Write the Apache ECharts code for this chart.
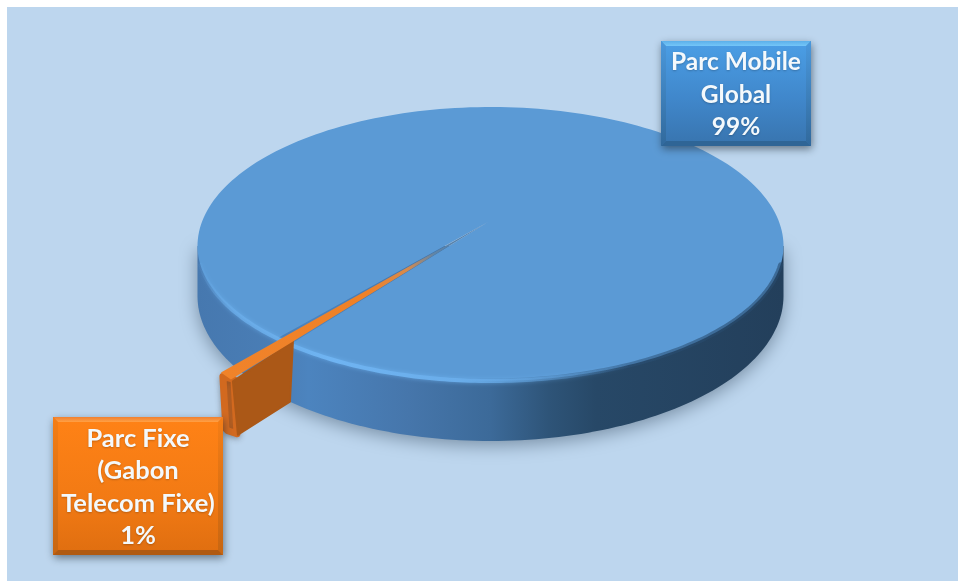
<!DOCTYPE html>
<html><head><meta charset="utf-8">
<style>html,body{margin:0;padding:0;background:#fff}#c{width:960px;height:581px}</style>
<script src="https://cdn.jsdelivr.net/npm/echarts@6/dist/echarts.min.js"></script>
</head><body><div id="c"></div>
<script>
const categories = ["Parc Mobile\nGlobal", "Parc Fixe\n(Gabon\nTelecom Fixe)"];
const values = [99, 1];
const total = values.reduce((a, b) => a + b, 0);

const CX = 490.5, RX = 293, CY = 246, RY_UP = 139, RY_DN = 135;
const BOT_CY = 296, BOT_RY = 145;
const APEX = [488, 222];
const FIXE_MID = 135 * Math.PI / 180;
const EXPLODE = [-58, 35];
const SKEW = 6;
const spanOf = v => v / total * 2 * Math.PI;
const fixeStart = FIXE_MID - spanOf(values[1]) / 2;
const fixeEnd = FIXE_MID + spanOf(values[1]) / 2;
const deg = d => d * Math.PI / 180;

const rimTop = t => [CX + RX * Math.cos(t), CY + (Math.sin(t) > 0 ? RY_DN : RY_UP) * Math.sin(t)];
const rimBot = t => [CX + RX * Math.cos(t), BOT_CY + BOT_RY * Math.sin(t)];
function arc(fn, a, b, n) { const p = []; for (let i = 0; i <= n; i++) p.push(fn(a + (b - a) * i / n)); return p; }
const grad = (x, y, x2, y2, stops) => ({ type: 'linear', x, y, x2, y2, global: true,
  colorStops: stops.map(s => ({ offset: s[0], color: s[1] })) });
const add = (p, d, sx) => [p[0] + d[0] + (sx || 0), p[1] + d[1]];

function box(x, y, w, h, b, c) {
  const X = x + w, Y = y + h;
  return [
    { type: 'rect', shape: { x, y, width: w, height: h }, style: { fill: c.base, shadowBlur: 8, shadowColor: 'rgba(30,40,50,.55)', shadowOffsetY: 3, shadowOffsetX: 1 } },
    { type: 'polygon', shape: { points: [[x, y], [x + b, y + b], [x + b, Y - b], [x, Y]] }, style: { fill: grad(0, y, 0, Y, c.side) } },
    { type: 'polygon', shape: { points: [[X, y], [X - b, y + b], [X - b, Y - b], [X, Y]] }, style: { fill: grad(0, y, 0, Y, c.side) } },
    { type: 'rect', shape: { x: x + b, y: y + b, width: w - 2 * b, height: h - 2 * b }, style: { fill: grad(0, y, 0, Y, c.face) } },
    { type: 'polygon', shape: { points: [[x, y], [X, y], [X - b, y + b], [x + b, y + b]] }, style: { fill: grad(0, y, 0, y + b, c.top) } },
    { type: 'polygon', shape: { points: [[x, Y], [X, Y], [X - b, Y - b], [x + b, Y - b]] }, style: { fill: c.bottom } }
  ];
}
function label(x, y, w, h, lines, value, size) {
  return { type: 'text', style: {
    x: x + w / 2, y: y + h / 2 + 1.5, text: lines + "\n" + value + "%", align: 'center', verticalAlign: 'middle',
    font: 'bold ' + size + 'px Lato, "Open Sans", sans-serif', lineHeight: 32.5, fill: '#F4F9FC',
    textShadowBlur: 2, textShadowColor: 'rgba(0,0,0,.22)', textShadowOffsetY: 1 } };
}

function renderItem(params, api) {
  const v = api.value(0);
  if (params.dataIndex === 0) {
    const wall = [rimTop(Math.PI), ...arc(rimBot, Math.PI, 0, 120), rimTop(0)];
    const face = [APEX, ...arc(rimTop, fixeEnd, fixeEnd + spanOf(v), 240)];
    return { type: 'group', children: [
      { type: 'polygon', shape: { points: wall }, style: {
        fill: grad(197, 0, 784, 0, [[0, '#4678AF'], [.14, '#4A7EB6'], [.19, '#4C84BF'], [.36, '#4676AB'], [.5, '#3C6A99'], [.6, '#2E5478'], [.68, '#274867'], [1, '#233F5B']]),
        shadowBlur: 18, shadowColor: 'rgba(50,70,90,.5)', shadowOffsetY: 4 } },
      { type: 'polygon', shape: { points: face }, style: { fill: '#5B9AD5' } },
      { type: 'polyline', shape: { points: arc(rimTop, deg(100), deg(8), 70) }, style: {
        fill: null, lineWidth: 5, lineCap: 'round', stroke: grad(420, 0, 720, 0, [[0, 'rgba(70,120,170,0)'], [.5, 'rgba(45,85,125,.45)'], [1, 'rgba(40,75,110,.6)']]) } },
      { type: 'polyline', shape: { points: arc(rimTop, deg(172), deg(62), 110) }, style: {
        fill: null, lineWidth: 4, lineCap: 'round',
        shadowBlur: 4, shadowColor: 'rgba(110,180,242,.7)',
        stroke: grad(200, 0, 630, 0, [[0, 'rgba(104,170,230,.1)'], [.08, 'rgba(106,172,232,.8)'], [.3, '#6FB4F2'], [.6, '#6AADEA'], [1, 'rgba(91,154,213,0)']]) } },
      ...box(661, 41, 150, 105, 5, { base: '#3A78B5',
        face: [[0, '#4B9FE6'], [.55, '#4087CB'], [1, '#3874AE']], top: [[0, '#5CB0EA'], [1, '#74C6F8']], bottom: '#2F6596',
        side: [[0, '#4A98DC'], [1, '#31699C']] }),
      label(661, 41, 150, 105, categories[0], v, 24.5)
    ] };
  }
  const rR = rimTop(fixeStart), rL = rimTop(fixeEnd), bR = rimBot(fixeStart);
  const oR = add(rR, EXPLODE), oL = add(rL, EXPLODE), oBR = add(bR, EXPLODE, SKEW);
  const stripEnd = [rR[0] + 3, rR[1] - 3];
  const I = 3;
  const bevel = [[oL[0] + I + 1, oL[1] + I], [oR[0] + 2, oR[1]], [oBR[0] - 1, oBR[1] - I], [oBR[0] - 10, oBR[1] - 6], [oL[0] + I + 4, oBR[1] - 8]];
  return { type: 'group', children: [
    { type: 'polygon', shape: { points: bevel }, style: {
      fill: '#D2691F', stroke: '#D2691F', lineWidth: 7, lineJoin: 'round',
      shadowBlur: 6, shadowColor: 'rgba(40,40,40,.35)', shadowOffsetY: 2 } },
    { type: 'polygon', shape: { points: [stripEnd, [oR[0] + 1, oR[1] + 2], [oBR[0], oBR[1] - 2], bR] }, style: {
      fill: '#AB5817', stroke: '#AB5817', lineWidth: 2, lineJoin: 'round' } },
    { type: 'polygon', shape: { points: [APEX, [oL[0] + 2, oL[1] - 1], [oR[0] - 1, oR[1]], stripEnd] }, style: {
      fill: grad(APEX[0], 0, oL[0], 0, [[0, '#4479B0'], [.2, '#5F85A8'], [.3, '#D78A4C'], [.45, '#EF8127'], [1, '#F0832A']]),
      stroke: null } },
    ...box(53, 417, 170, 138, 5, { base: '#D96C12',
      face: [[0, '#FF8216'], [.6, '#F27A14'], [1, '#DF6E10']], top: [[0, '#F08030'], [1, '#FFA045']], bottom: '#B05A12',
      side: [[0, '#F57E16'], [1, '#C76612']] }),
    label(53, 417, 170, 138, categories[1], v, 25.5)
  ] };
}

const chart = echarts.init(document.getElementById('c'), null, { renderer: 'canvas' });
chart.setOption({
  animation: false,
  backgroundColor: '#fff',
  graphic: [{ type: 'rect', z: -10, shape: { x: 7, y: 7, width: 951, height: 574 }, style: { fill: '#BDD6EE' } }],
  series: [{
    type: 'custom', coordinateSystem: 'none', renderItem, silent: true, z: 5,
    data: values.map((v, i) => ({ name: categories[i], value: v }))
  }]
});
</script></body></html>
